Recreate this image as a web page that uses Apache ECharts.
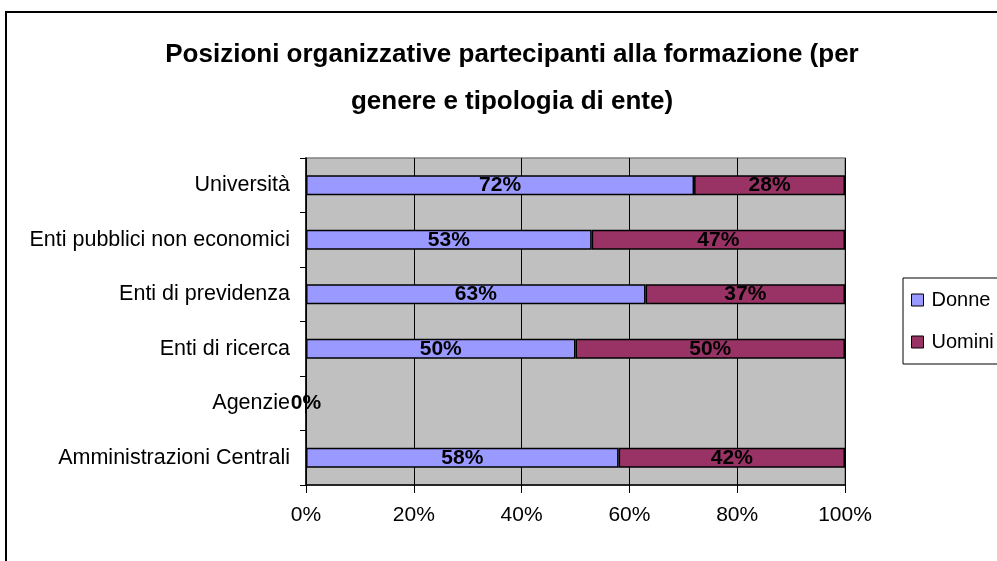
<!DOCTYPE html>
<html>
<head>
<meta charset="utf-8">
<script src="https://cdn.jsdelivr.net/npm/echarts@6/dist/echarts.min.js"></script>
<style>
  html, body { margin: 0; padding: 0; background: #fff; }
  #chart { width: 997px; height: 561px; }
</style>
</head>
<body>
<div id="chart"></div>
<script>
// categories from bottom to top (category axis draws first item at the bottom)
const categories = [
  "Amministrazioni Centrali",
  "Agenzie",
  "Enti di ricerca",
  "Enti di previdenza",
  "Enti pubblici non economici",
  "Università",
];
const donne = [58, 0, 50, 63, 53, 72];
const uomini = [42, 0, 50, 37, 47, 28];
const xTicks = [0, 20, 40, 60, 80, 100];

const FONT = '"Liberation Sans", Arial, sans-serif';

const chart = echarts.init(document.getElementById("chart"));

function barLabel(hideZero) {
  return {
    show: true,
    position: "inside",
    color: "#000",
    fontFamily: FONT,
    fontWeight: "bold",
    fontSize: 21,
    formatter: (p) => (hideZero && p.value === 0 ? "" : p.value + "%"),
  };
}

const option = {
  animation: false,
  textStyle: { fontFamily: FONT },
  title: {
    text: "Posizioni organizzative partecipanti alla formazione (per\ngenere e tipologia di ente)",
    left: 507,
    top: 26,
    textAlign: "center",
    textStyle: {
      fontFamily: FONT,
      fontWeight: "bold",
      fontSize: 26,
      lineHeight: 47,
      color: "#000",
    },
  },
  legend: {
    orient: "vertical",
    left: 903,
    top: 278,
    padding: [12, 30, 12, 8],
    itemGap: 22,
    itemWidth: 12,
    itemHeight: 12,
    borderColor: "#000",
    borderWidth: 1,
    icon: "rect",
    itemStyle: { borderColor: "#000", borderWidth: 1 },
    textStyle: { fontFamily: FONT, fontSize: 20, color: "#000", padding: [0, 0, 0, 3] },
    data: ["Donne", "Uomini"],
  },
  grid: {
    left: 306,
    right: 152,
    top: 158,
    bottom: 76,
    show: true,
    backgroundColor: "#C0C0C0",
    borderColor: "#808080",
    borderWidth: 1.5,
  },
  xAxis: {
    type: "value",
    min: 0,
    max: 100,
    interval: 20,
    axisLine: { show: true, lineStyle: { color: "#000", width: 1.5 } },
    axisTick: { show: true, length: 8, lineStyle: { color: "#000" } },
    splitLine: { show: true, lineStyle: { color: "#000", width: 1 } },
    axisLabel: {
      margin: 20,
      fontFamily: FONT,
      fontSize: 21,
      color: "#000",
      formatter: (v) => (xTicks.includes(v) ? v + "%" : ""),
    },
  },
  yAxis: {
    type: "category",
    data: categories,
    axisLine: { show: true, lineStyle: { color: "#000", width: 1.5 } },
    axisTick: { show: true, length: 6, lineStyle: { color: "#000" } },
    axisLabel: { margin: 16, fontFamily: FONT, fontSize: 21.5, color: "#000" },
  },
  graphic: [
    {
      type: "rect",
      shape: { x: 6, y: 12, width: 1000, height: 570 },
      style: { fill: null, stroke: "#000", lineWidth: 2 },
      silent: true,
    },
  ],
  series: [
    {
      name: "Donne",
      type: "bar",
      stack: "tot",
      barWidth: "37%",
      data: donne,
      itemStyle: { color: "#9999FF", borderColor: "#000", borderWidth: 1.5 },
      label: barLabel(false),
    },
    {
      name: "Uomini",
      type: "bar",
      stack: "tot",
      barWidth: "37%",
      data: uomini,
      itemStyle: { color: "#993366", borderColor: "#000", borderWidth: 1.5 },
      label: barLabel(true),
    },
  ],
};

chart.setOption(option);
</script>
</body>
</html>
